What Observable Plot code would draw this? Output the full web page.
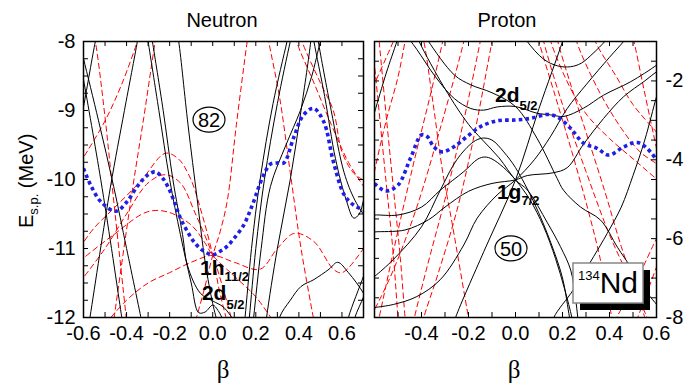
<!DOCTYPE html>
<html><head><meta charset="utf-8">
<script src="https://cdn.jsdelivr.net/npm/d3@7"></script>
<script src="https://cdn.jsdelivr.net/npm/@observablehq/plot@0.6"></script>
<style>
body{margin:0;background:#fff;}
#wrap{position:relative;width:699px;height:383px;overflow:hidden;background:#fff;}
#wrap svg{position:absolute;top:0;}
</style></head><body><div id="wrap"></div>
<script>
// ---------------- DATA ----------------
// Neutron panel: Fermi level (blue dotted), positive parity (black), negative parity (red dashed)
const neutronFermi = [[-0.6,-9.84],[-0.567,-10.08],[-0.52,-10.32],[-0.45,-10.46],[-0.4,-10.33],[-0.35,-10.1],[-0.3,-9.93],[-0.266,-9.89],[-0.235,-9.97],[-0.204,-10.13],[-0.175,-10.35],[-0.15,-10.56],[-0.12,-10.74],[-0.088,-10.9],[-0.05,-11.02],[0.0,-11.09],[0.035,-11.04],[0.066,-10.97],[0.1,-10.85],[0.144,-10.66],[0.17,-10.48],[0.19,-10.32],[0.23,-9.98],[0.267,-9.78],[0.3,-9.76],[0.33,-9.76],[0.375,-9.4],[0.42,-9.07],[0.468,-8.97],[0.515,-9.16],[0.56,-9.74],[0.61,-10.22],[0.654,-10.37],[0.7,-10.44]];
const neutronPositive = [
  [[-0.64,-9.6],[-0.6,-8.95],[-0.545,-8.0],[-0.53,-7.8]],
  [[-0.62,-8.0],[-0.6,-8.25],[-0.53,-9.15],[-0.46,-10.1],[-0.4,-11.0],[-0.33,-12.05]],
  [[-0.615,-8.3],[-0.6,-8.55],[-0.52,-10.0],[-0.47,-11.0],[-0.42,-12.05]],
  [[-0.6,-12.6],[-0.57,-12.0],[-0.475,-10.11],[-0.41,-9.0],[-0.35,-8.0],[-0.34,-7.8]],
  [[-0.31,-7.8],[-0.3,-8.0],[-0.25,-9.0],[-0.2,-10.0],[-0.15,-10.8],[-0.1,-11.5],[-0.065,-11.93],[-0.035,-11.92],[0.0,-11.82],[0.025,-11.9],[0.05,-12.05]],
  [[-0.29,-7.8],[-0.28,-8.0],[-0.23,-9.0],[-0.185,-10.0],[-0.14,-10.8],[-0.117,-11.25],[-0.057,-11.65],[0.0,-11.76],[0.05,-11.85],[0.1,-12.05]],
  [[-0.17,-7.8],[-0.158,-8.0],[-0.115,-9.2],[-0.072,-10.29],[-0.035,-11.2],[0.0,-11.8],[0.02,-12.05]],
  [[0.14,-12.3],[0.15,-12.0],[0.18,-11.0],[0.22,-10.0],[0.28,-8.9],[0.345,-8.0],[0.36,-7.8]],
  [[0.16,-12.3],[0.17,-12.0],[0.2,-11.0],[0.24,-10.0],[0.3,-8.9],[0.36,-8.0],[0.375,-7.8]],
  [[0.18,-12.3],[0.19,-12.0],[0.225,-11.0],[0.268,-10.1],[0.34,-9.5],[0.407,-9.0],[0.46,-8.5],[0.5,-8.0],[0.52,-7.8]],
  [[0.24,-12.3],[0.25,-12.0],[0.3,-11.0],[0.36,-10.0],[0.41,-9.0],[0.455,-8.0],[0.46,-7.8]],
  [[0.46,-7.8],[0.47,-8.0],[0.52,-8.8],[0.57,-9.7],[0.62,-10.3],[0.655,-10.56],[0.68,-10.5],[0.7,-10.3],[0.72,-10.0]],
  [[0.48,-7.8],[0.49,-8.0],[0.55,-9.0],[0.61,-9.9],[0.66,-10.3],[0.72,-10.6]],
  [[0.3,-12.3],[0.31,-12.0],[0.36,-11.75],[0.41,-11.55],[0.47,-11.45],[0.54,-11.3],[0.58,-11.2],[0.63,-11.35],[0.7,-11.65],[0.72,-11.8]],
  [[0.61,-12.3],[0.63,-12.0],[0.7,-11.4],[0.72,-11.2]],
  [[0.64,-12.3],[0.66,-12.0],[0.7,-11.7],[0.72,-11.5]]
];
const neutronNegative = [
  [[-0.56,-7.8],[-0.545,-8.0],[-0.5,-9.1],[-0.46,-10.3],[-0.4,-12.05]],
  [[-0.33,-7.8],[-0.35,-8.0],[-0.42,-8.6],[-0.5,-9.15],[-0.6,-9.68],[-0.62,-9.78]],
  [[-0.255,-7.8],[-0.267,-8.0],[-0.32,-9.1],[-0.373,-10.15],[-0.46,-12.05]],
  [[-0.62,-11.0],[-0.55,-10.7],[-0.46,-10.42],[-0.336,-10.03],[-0.22,-9.62],[-0.16,-9.7],[-0.104,-9.98],[-0.05,-10.5],[0.0,-11.1],[0.03,-11.6],[0.07,-12.1]],
  [[-0.62,-11.5],[-0.5,-11.0],[-0.4,-10.5],[-0.3,-10.05],[-0.22,-9.93],[-0.15,-10.05],[-0.08,-10.5],[0.0,-11.1],[0.05,-11.6],[0.09,-12.05]],
  [[-0.62,-11.2],[-0.6,-11.14],[-0.46,-10.8],[-0.305,-10.47],[-0.21,-10.47],[-0.1,-10.66],[-0.04,-10.9],[0.0,-11.1],[0.1,-11.4],[0.2,-11.7],[0.28,-12.05]],
  [[-0.5,-12.1],[-0.4,-11.75],[-0.3,-11.5],[-0.2,-11.35],[-0.1,-11.2],[0.0,-11.1],[0.1,-11.2],[0.22,-11.3],[0.3,-11.0],[0.38,-10.78],[0.47,-10.9],[0.56,-11.3],[0.6,-11.35],[0.7,-11.0],[0.72,-10.9]],
  [[-0.08,-12.05],[-0.04,-11.6],[0.0,-11.1],[0.035,-10.75],[0.068,-10.3],[0.11,-9.2],[0.16,-8.0],[0.17,-7.8]],
  [[0.25,-7.8],[0.26,-8.0],[0.31,-8.8],[0.36,-9.9],[0.41,-11.0],[0.47,-12.05]],
  [[0.38,-7.8],[0.39,-8.0],[0.47,-8.6],[0.55,-9.2],[0.63,-9.75],[0.7,-10.1],[0.72,-10.2]],
  [[0.4,-7.8],[0.415,-8.0],[0.5,-8.6],[0.56,-9.0],[0.6,-9.6],[0.655,-9.91],[0.7,-10.01],[0.72,-10.05]]
];
// Proton panel
const protonFermi = [[-0.6,-4.6],[-0.553,-4.79],[-0.5,-4.64],[-0.447,-3.96],[-0.4,-3.37],[-0.376,-3.41],[-0.348,-3.67],[-0.312,-3.8],[-0.262,-3.67],[-0.206,-3.41],[-0.149,-3.16],[-0.078,-3.01],[0.0,-2.99],[0.064,-2.95],[0.135,-2.85],[0.177,-2.91],[0.234,-3.2],[0.29,-3.58],[0.347,-3.71],[0.397,-3.88],[0.461,-3.67],[0.518,-3.56],[0.56,-3.71],[0.6,-4.0]];
const protonPositive = [
  [[-0.62,-3.2],[-0.6,-2.8],[-0.55,-1.8],[-0.505,-1.0],[-0.49,-0.7]],
  [[-0.27,-8.3],[-0.255,-8.0],[-0.135,-6.33],[0.0,-4.51],[0.1,-2.7],[0.2,-1.0],[0.22,-0.6]],
  [[-0.39,-0.8],[-0.37,-1.0],[-0.26,-1.85],[-0.19,-2.1],[-0.1,-2.3],[0.0,-2.65],[0.092,-3.46],[0.177,-4.47],[0.204,-4.77],[0.277,-5.2],[0.362,-5.53],[0.434,-6.22],[0.49,-6.72],[0.55,-7.3],[0.62,-7.8]],
  [[-0.47,-0.8],[-0.42,-1.2],[-0.34,-1.9],[-0.26,-2.45],[-0.19,-2.7],[-0.135,-2.74],[-0.078,-2.66],[0.0,-2.65],[0.092,-2.82],[0.149,-2.86],[0.206,-2.9],[0.29,-2.69],[0.375,-2.36],[0.49,-2.02],[0.6,-1.6],[0.63,-1.45]],
  [[0.03,-0.8],[0.05,-1.0],[0.12,-1.45],[0.18,-1.62],[0.234,-1.64],[0.28,-1.55],[0.33,-1.3],[0.38,-1.0],[0.4,-0.85]],
  [[-0.43,-0.7],[-0.41,-1.0],[-0.3,-2.2],[-0.2,-3.1],[-0.145,-3.47],[-0.07,-3.95],[0.0,-4.51],[0.051,-4.77],[0.136,-5.6],[0.191,-6.2],[0.235,-6.8],[0.255,-7.5],[0.265,-8.0],[0.27,-8.3]],
  [[-0.62,-5.42],[-0.6,-5.4],[-0.5,-5.4],[-0.4,-5.2],[-0.32,-4.77],[-0.22,-4.3],[-0.16,-3.98],[-0.13,-3.93],[-0.1,-3.98],[-0.05,-4.2],[0.0,-4.51],[0.06,-5.0],[0.12,-5.7],[0.17,-6.5],[0.21,-7.3],[0.24,-8.0],[0.25,-8.3]],
  [[-0.62,-5.85],[-0.6,-5.83],[-0.47,-5.78],[-0.37,-5.52],[-0.3,-5.2],[-0.2,-4.8],[-0.1,-4.6],[0.0,-4.51],[0.05,-4.4],[0.16,-4.33],[0.22,-4.2],[0.29,-3.6],[0.375,-2.95],[0.46,-2.4],[0.55,-2.0],[0.6,-1.77],[0.62,-1.7]],
  [[-0.62,-7.05],[-0.6,-6.96],[-0.52,-6.53],[-0.4,-5.7],[-0.32,-4.77],[-0.25,-4.0],[-0.18,-3.55],[-0.14,-3.45],[-0.1,-3.5],[-0.05,-3.8],[0.0,-4.2],[0.08,-5.1],[0.15,-6.1],[0.2,-7.0],[0.23,-8.0],[0.24,-8.3]],
  [[-0.62,-7.78],[-0.6,-7.75],[-0.52,-7.67],[-0.42,-7.47],[-0.32,-7.04],[-0.22,-6.16],[-0.163,-5.48],[-0.078,-4.89],[0.0,-4.51],[0.08,-4.0],[0.15,-3.4],[0.22,-2.7],[0.3,-2.1],[0.4,-1.4],[0.46,-1.0],[0.5,-0.7]],
  [[0.15,-8.3],[0.163,-8.0],[0.247,-7.29],[0.332,-6.46],[0.39,-5.87],[0.45,-5.2],[0.5,-4.4],[0.55,-3.5],[0.6,-2.4],[0.62,-2.0]]
];
const protonNegative = [
  [[-0.64,-2.6],[-0.52,-1.0],[-0.5,-0.7]],
  [[-0.62,-5.0],[-0.6,-4.3],[-0.55,-3.0],[-0.5,-1.9],[-0.47,-1.0],[-0.46,-0.7]],
  [[-0.61,-1.0],[-0.58,-2.8],[-0.55,-4.6],[-0.52,-6.4],[-0.5,-8.0],[-0.495,-8.3]],
  [[-0.58,-1.0],[-0.55,-2.9],[-0.52,-4.7],[-0.49,-6.5],[-0.47,-8.0],[-0.465,-8.3]],
  [[-0.4,-0.8],[-0.39,-1.0],[-0.35,-2.6],[-0.31,-4.3],[-0.27,-5.6],[-0.2,-8.0],[-0.19,-8.3]],
  [[-0.3,-0.7],[-0.31,-1.0],[-0.36,-2.3],[-0.43,-4.0],[-0.5,-5.8],[-0.58,-8.0],[-0.59,-8.3]],
  [[-0.21,-0.7],[-0.22,-1.0],[-0.32,-3.2],[-0.42,-5.2],[-0.52,-6.8],[-0.6,-7.8],[-0.62,-8.0]],
  [[-0.14,-0.7],[-0.15,-1.0],[-0.22,-3.0],[-0.3,-5.0],[-0.38,-6.8],[-0.43,-8.0],[-0.44,-8.3]],
  [[-0.09,-0.7],[-0.1,-1.0],[-0.18,-3.5],[-0.25,-5.3],[-0.33,-6.9],[-0.39,-8.0],[-0.4,-8.3]],
  [[0.11,-0.7],[0.12,-1.0],[0.2,-2.6],[0.3,-4.3],[0.4,-5.9],[0.5,-7.2],[0.56,-8.0],[0.58,-8.3]],
  [[0.14,-0.7],[0.15,-1.0],[0.234,-2.19],[0.305,-2.87],[0.4,-3.46],[0.515,-4.05],[0.6,-4.48],[0.62,-4.55]],
  [[0.17,-0.7],[0.18,-1.0],[0.23,-2.0],[0.3,-3.3],[0.38,-4.8],[0.45,-6.2],[0.52,-7.4],[0.55,-8.0]],
  [[0.09,-0.7],[0.1,-1.0],[0.17,-2.4],[0.24,-3.8],[0.31,-5.3],[0.36,-6.5],[0.41,-8.0],[0.42,-8.3]],
  [[0.49,-0.7],[0.504,-1.0],[0.546,-2.2],[0.6,-3.7],[0.62,-4.2]],
  [[0.4,-8.3],[0.43,-8.0],[0.52,-7.0],[0.6,-6.0],[0.62,-5.8]],
  [[0.5,-8.3],[0.52,-8.0],[0.57,-7.2],[0.62,-6.4]],
  [[0.33,-0.7],[0.34,-1.0],[0.43,-1.9],[0.5,-2.6],[0.6,-3.3],[0.62,-3.45]],
  [[0.25,-0.7],[0.26,-1.0],[0.35,-2.2],[0.45,-3.2],[0.53,-3.8],[0.6,-4.1],[0.62,-4.2]]
];
// ticks and labels
const nXTicks = [-0.5,-0.4,-0.3,-0.2,-0.1,0.0,0.1,0.2,0.3,0.4,0.5,0.6];
const nXLabels = [-0.6,-0.4,-0.2,0.0,0.2,0.4,0.6];
const nYTicks = [-11.75,-11.5,-11.25,-11,-10.75,-10.5,-10.25,-10,-9.75,-9.5,-9.25,-9,-8.75,-8.5,-8.25];
const nYLabels = [-12,-11,-10,-9,-8];
const pXTicks = [-0.5,-0.4,-0.3,-0.2,-0.1,0.0,0.1,0.2,0.3,0.4,0.5];
const pXLabels = [-0.4,-0.2,0.0,0.2,0.4,0.6];
const pYTicks = [-7.5,-7,-6.5,-6,-5.5,-5,-4.5,-4,-3.5,-3,-2.5,-2,-1.5];
const pYLabels = [-8,-6,-4,-2];
// annotations (beta, E)
const nLabels = [{b:-0.057,e:-11.39,main:"1h",sub:"11/2",dy:6},{b:-0.048,e:-11.75,main:"2d",sub:"5/2",dy:9}];
const pLabels = [{b:-0.085,e:-2.54,main:"2d",sub:"5/2",dy:8},{b:-0.077,e:-5.0,main:"1g",sub:"7/2",dy:6}];
const nMagic = {b:-0.015,e:-9.14,text:"82"};
const pMagic = {b:-0.017,e:-6.26,text:"50"};

// ---------------- RENDER ----------------
const FONT = "'Liberation Sans', Arial, Helvetica, sans-serif";
const SERIF = "'Liberation Serif', 'Times New Roman', serif";
const H = 383, MT = 41, MB = 66, TICK = 5;
const toRows = lines => lines.flatMap((pts, i) => pts.map(([b, e]) => ({id: i, b, e})));
const fmt1 = d => d.toFixed(1);

function panel({width, ml, mr, xd, yd, pos, neg, fermi, xt, yt, xl, yl, yAnchor}) {
  const iw = width - ml - mr, ih = H - MT - MB;
  const ly = TICK * (yd[1] - yd[0]) / ih, lx = TICK * (xd[1] - xd[0]) / iw;
  return Plot.plot({
    width, height: H, marginLeft: ml, marginRight: mr, marginTop: MT, marginBottom: MB,
    x: {domain: xd}, y: {domain: yd},
    style: {fontFamily: FONT, fontSize: "20px", background: "white", color: "black"},
    marks: [
      Plot.line(toRows(neg), {x: "b", y: "e", z: "id", stroke: "#ff0000", strokeWidth: 1, strokeDasharray: "6,3", strokeLinecap: "butt", curve: "catmull-rom", clip: true}),
      Plot.line(toRows(pos), {x: "b", y: "e", z: "id", stroke: "#000", strokeWidth: 1, curve: "catmull-rom", clip: true}),
      Plot.line(fermi, {x: d => d[0], y: d => d[1], stroke: "#1e1ee6", strokeWidth: 3.6, strokeDasharray: "3.6,3.2", strokeLinecap: "butt", curve: "catmull-rom", clip: true}),
      Plot.ruleX(xt, {x: d => d, y1: yd[0], y2: yd[0] + ly, stroke: "#000", strokeWidth: 1}),
      Plot.ruleX(xt, {x: d => d, y1: yd[1] - ly, y2: yd[1], stroke: "#000", strokeWidth: 1}),
      Plot.ruleY(yt, {y: d => d, x1: xd[0], x2: xd[0] + lx, stroke: "#000", strokeWidth: 1}),
      Plot.ruleY(yt, {y: d => d, x1: xd[1] - lx, x2: xd[1], stroke: "#000", strokeWidth: 1}),
      Plot.frame({stroke: "#000", strokeWidth: 1.5}),
      Plot.axisX({ticks: xl, anchor: "bottom", tickSize: 0, tickPadding: 8, tickFormat: fmt1, label: null, fontSize: 20}),
      Plot.axisY({ticks: yl, anchor: yAnchor, tickSize: 0, tickPadding: yAnchor === "left" ? 8 : 9, tickFormat: d => String(d), label: null, fontSize: 20})
    ]
  });
}

const wrap = document.getElementById("wrap");
const left = panel({width: 369, ml: 83, mr: 6, xd: [-0.6, 0.7], yd: [-12, -8], pos: neutronPositive, neg: neutronNegative, fermi: neutronFermi, xt: nXTicks, yt: nYTicks, xl: nXLabels, yl: nYLabels, yAnchor: "left"});
const right = panel({width: 330, ml: 5, mr: 43, xd: [-0.6, 0.6], yd: [-8, -1], pos: protonPositive, neg: protonNegative, fermi: protonFermi, xt: pXTicks, yt: pYTicks, xl: pXLabels, yl: pYLabels, yAnchor: "right"});
left.style.left = "0px"; right.style.left = "369px";
wrap.appendChild(left); wrap.appendChild(right);

function annotate(svgEl, labels, magic, title, titleX, frameCx) {
  const sx = svgEl.scale("x"), sy = svgEl.scale("y");
  const g = d3.select(svgEl).append("g").attr("font-family", FONT).attr("text-anchor", "start");
  for (const L of labels) {
    const t = g.append("text").attr("x", sx.apply(L.b)).attr("y", sy.apply(L.e))
      .attr("font-size", 21).attr("font-weight", "bold").attr("fill", "#000").text(L.main);
    t.append("tspan").attr("font-size", 13).attr("dy", L.dy).text(L.sub);
  }
  const cx = sx.apply(magic.b), cy = sy.apply(magic.e);
  g.append("ellipse").attr("cx", cx).attr("cy", cy).attr("rx", 16).attr("ry", 12.5)
    .attr("fill", "white").attr("stroke", "#000").attr("stroke-width", 1.2);
  g.append("text").attr("x", cx).attr("y", cy).attr("dy", "0.36em").attr("text-anchor", "middle")
    .attr("font-size", 20).text(magic.text);
  g.append("text").attr("x", titleX).attr("y", 27).attr("text-anchor", "middle").attr("font-size", 20).text(title);
  g.append("text").attr("x", frameCx).attr("y", 378).attr("text-anchor", "middle")
    .attr("font-family", SERIF).attr("font-size", 25).text("β");
  return g;
}
annotate(left, nLabels, nMagic, "Neutron", 222, 223);
const gR = annotate(right, pLabels, pMagic, "Proton", 138, 145);

// y-axis title
const yt = d3.select(left).append("text").attr("transform", "translate(33,228) rotate(-90)")
  .attr("font-family", FONT).attr("font-size", 20).attr("text-anchor", "start");
yt.append("tspan").text("E");
yt.append("tspan").attr("font-size", 13).attr("dy", 5).text("s.p.");
yt.append("tspan").attr("dy", -5).text(" (MeV)");

// 134Nd box
gR.append("rect").attr("x", 211).attr("y", 270).attr("width", 70).attr("height", 40).attr("fill", "#000");
gR.append("rect").attr("x", 204).attr("y", 263).attr("width", 70).attr("height", 40).attr("fill", "#fff").attr("stroke", "#888").attr("stroke-width", 1.5);
const nd = gR.append("text").attr("x", 209).attr("y", 293).attr("fill", "#000");
nd.append("tspan").attr("font-size", 13).attr("dy", -13).text("134");
nd.append("tspan").attr("font-size", 30).attr("dy", 13).text("Nd");
</script>
</body></html>
